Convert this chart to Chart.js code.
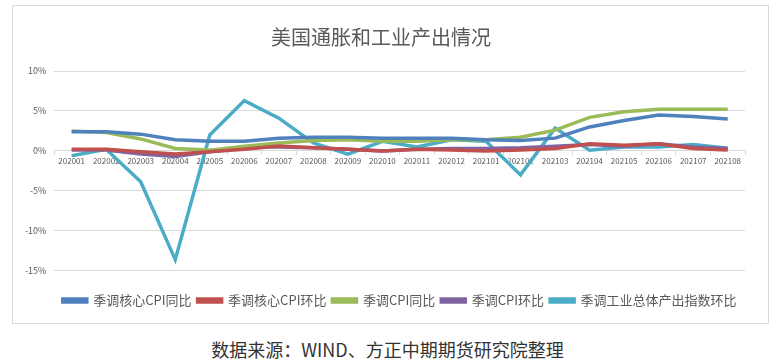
<!DOCTYPE html>
<html>
<head>
<meta charset="utf-8">
<script src="https://cdn.jsdelivr.net/npm/chart.js@4"></script>
<style>
  body { margin: 0; background: #fff; width: 775px; height: 364px; position: relative; overflow: hidden; }
  #box { position: absolute; left: 12px; top: 5px; width: 755px; height: 317px; border: 1px solid #d9d9d9; }
  #caption { position: absolute; left: 0; top: 336px; width: 775px; text-align: center;
    font-family: "Noto Sans CJK SC", sans-serif; font-size: 18px; color: #333; }
</style>
</head>
<body>
<div id="box"><canvas id="myChart"></canvas></div>
<div id="caption">数据来源：WIND、方正中期期货研究院整理</div>
<script>
const months = ['202001', '202002', '202003', '202004', '202005', '202006', '202007', '202008', '202009', '202010',
  '202011', '202012', '202101', '202102', '202103', '202104', '202105', '202106', '202107', '202108'];

const coreCpiYoy = [2.4, 2.4, 2.1, 1.4, 1.2, 1.2, 1.6, 1.7, 1.7, 1.6, 1.6, 1.6, 1.4, 1.3, 1.6, 3.0, 3.8, 4.5, 4.3, 4.0];
const coreCpiMom = [0.2, 0.2, -0.1, -0.4, -0.1, 0.2, 0.6, 0.4, 0.2, 0.0, 0.2, 0.1, 0.0, 0.1, 0.3, 0.9, 0.7, 0.9, 0.3, 0.1];
const cpiYoy = [2.5, 2.3, 1.5, 0.3, 0.1, 0.6, 1.0, 1.3, 1.4, 1.2, 1.2, 1.4, 1.4, 1.7, 2.6, 4.2, 4.9, 5.2, 5.2, 5.2];
const cpiMom = [0.1, 0.1, -0.4, -0.7, -0.1, 0.5, 0.5, 0.4, 0.2, 0.0, 0.2, 0.3, 0.3, 0.4, 0.6, 0.8, 0.6, 0.9, 0.5, 0.3];
const indProdMom = [-0.6, 0.2, -3.85, -13.6, 2.0, 6.3, 4.1, 1.0, -0.4, 1.2, 0.5, 1.4, 1.2, -3.0, 2.85, 0.1, 0.5, 0.5, 0.8, 0.35];

const seriesNames = ['季调核心CPI同比', '季调核心CPI环比', '季调CPI同比', '季调CPI环比', '季调工业总体产出指数环比'];
const seriesColors = ['#4F81BD', '#C0504D', '#9BBB59', '#8064A2', '#4BACC6'];
const yTicks = [10, 5, 0, -5, -10, -15];

const fontFamily = '"Noto Sans CJK SC", "Noto Sans", sans-serif';
const allSeries = [coreCpiYoy, coreCpiMom, cpiYoy, cpiMom, indProdMom];

const datasets = allSeries.map((data, i) => ({
  label: seriesNames[i],
  data: data,
  borderColor: seriesColors[i],
  backgroundColor: seriesColors[i],
  borderWidth: 3.5,
  pointRadius: 0,
  tension: 0,
  fill: false,
}));

const ctx = document.getElementById('myChart').getContext('2d');
new Chart(ctx, {
  type: 'line',
  data: { labels: months, datasets },
  options: {
    responsive: true,
    maintainAspectRatio: false,
    animation: false,
    layout: { padding: { left: 4, right: 23, top: 6, bottom: 6 } },
    plugins: {
      tooltip: { enabled: false },
      title: {
        display: true,
        text: '美国通胀和工业产出情况',
        color: '#595959',
        font: { family: fontFamily, size: 20, weight: 'normal' },
        padding: { top: 13, bottom: 22 },
      },
      legend: {
        position: 'bottom',
        fullSize: false,
        // empty legend title only used as spacing above the legend row
        title: { display: true, text: ' ', font: { size: 1 }, padding: { top: 16, bottom: 0 } },
        labels: {
          boxWidth: 24,
          boxHeight: 3,
          padding: 6,
          color: '#595959',
          font: { family: fontFamily, size: 13 },
        },
      },
    },
    scales: {
      x: {
        position: { y: 0 },
        offset: true,
        grid: { display: true, drawOnChartArea: false, color: '#d9d9d9', tickLength: 4, offset: true },
        border: { color: '#d9d9d9' },
        ticks: { color: '#595959', font: { family: fontFamily, size: 8 }, maxRotation: 0, autoSkip: false, padding: 1 },
      },
      y: {
        min: -15,
        max: 10,
        afterBuildTicks: axis => { axis.ticks = yTicks.map(v => ({ value: v })); },
        grid: { color: '#d9d9d9', drawTicks: false },
        border: { display: false },
        ticks: { color: '#595959', font: { family: fontFamily, size: 9 }, padding: 8, callback: v => v + '%' },
      },
    },
  },
});
</script>
</body>
</html>
